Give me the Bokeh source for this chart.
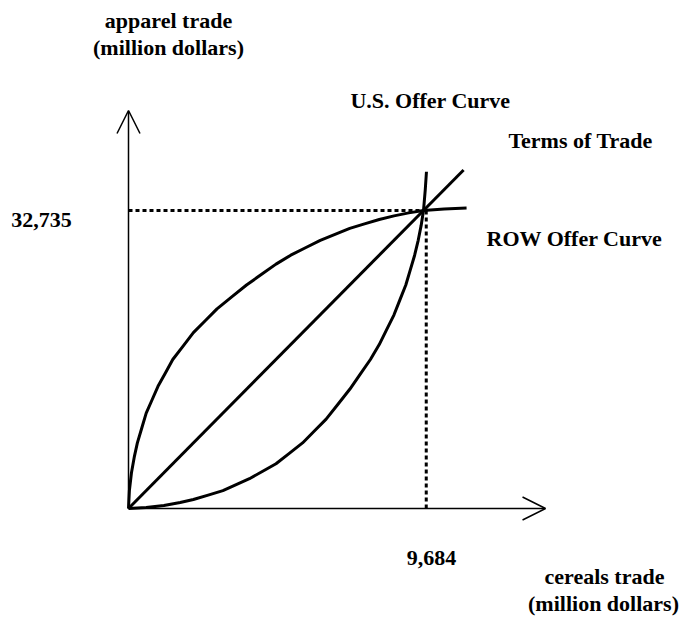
from bokeh.plotting import figure
from bokeh.models import Arrow, OpenHead, Label, Range1d
from bokeh.embed import file_html
from bokeh.resources import INLINE

# ---- data (million dollars) ----
eq_cereals = 9684
eq_apparel = 32735

row_cereals = [0, 29, 97, 194, 291, 436, 581, 775, 968, 1211, 1453, 1792, 2130, 2518, 2905, 3389,
               3874, 4358, 4842, 5326, 5810, 6295, 6779, 7263, 7747, 8231, 8716, 9200, 9684, 10362, 11098]
row_apparel = [0, 1964, 3928, 5729, 7202, 8838, 10475, 11948, 13421, 14894, 16368, 17841, 19314, 20623,
               21932, 23242, 24551, 25697, 26843, 27825, 28643, 29462, 30116, 30771, 31262, 31753, 32146,
               32473, 32735, 32899, 32997]

us_cereals = [0, 581, 1162, 1695, 2130, 2615, 3099, 3535, 3970, 4406, 4842, 5278, 5714, 6101, 6488, 6876,
              7263, 7602, 7941, 8231, 8474, 8716, 8909, 9103, 9248, 9393, 9510, 9607, 9684, 9742, 9781]
us_apparel = [0, 98, 327, 655, 982, 1473, 1964, 2619, 3274, 4092, 4910, 6056, 7202, 8511, 9821, 11457,
              13094, 14731, 16368, 18004, 19641, 21278, 22915, 24551, 26188, 27825, 29462, 31098, 32735,
              35026, 36991]

tot_cereals = [0, 11000]
tot_apparel = [0, 37190]

axis_x_max = 13690
axis_y_max = 43720

FONT = "Liberation Serif"
FS = "22px"
W, H = 683, 618

p = figure(width=W, height=H,
           x_range=Range1d(-4202, 18219), y_range=Range1d(-12084, 55804),
           output_backend="svg", toolbar_location=None, min_border=0,
           x_axis_location=None, y_axis_location=None)
p.grid.visible = False
p.outline_line_color = None
p.background_fill_color = "white"
p.border_fill_color = "white"

# axes with open arrowheads
p.add_layout(Arrow(end=OpenHead(size=23, line_width=1.5, line_color="black"),
                   x_start=0, y_start=0, x_end=0, y_end=axis_y_max,
                   line_width=1.5, line_color="black"))
p.add_layout(Arrow(end=OpenHead(size=23, line_width=1.5, line_color="black"),
                   x_start=0, y_start=0, x_end=axis_x_max, y_end=0,
                   line_width=1.5, line_color="black"))

# dotted guide lines
p.line([0, eq_cereals], [eq_apparel, eq_apparel], line_color="black", line_width=3, line_dash="4 3")
p.line([eq_cereals + 90, eq_cereals + 90], [eq_apparel, 0], line_color="black", line_width=3, line_dash="4 3")

# curves
p.line(row_cereals, row_apparel, line_color="black", line_width=3, line_join="round")
p.line(us_cereals, us_apparel, line_color="black", line_width=3, line_join="round")
p.line(tot_cereals, tot_apparel, line_color="black", line_width=3)

def lab(text, px, py):
    p.add_layout(Label(x=px, y=H - py, x_units="screen", y_units="screen",
                       text=text, text_font=FONT, text_font_size=FS,
                       text_font_style="bold", text_align="center",
                       text_baseline="middle", text_color="black"))

lab("apparel trade", 168, 20)
lab("(million dollars)", 168, 47)
lab("U.S. Offer Curve", 430, 100)
lab("Terms of Trade", 580, 140)
lab("ROW Offer Curve", 574, 238)
lab(f"{eq_apparel:,}", 41, 219)
lab(f"{eq_cereals:,}", 431, 557)
lab("cereals trade", 604, 576)
lab("(million dollars)", 603, 603)

open("out.html", "w").write(file_html(p, INLINE))
